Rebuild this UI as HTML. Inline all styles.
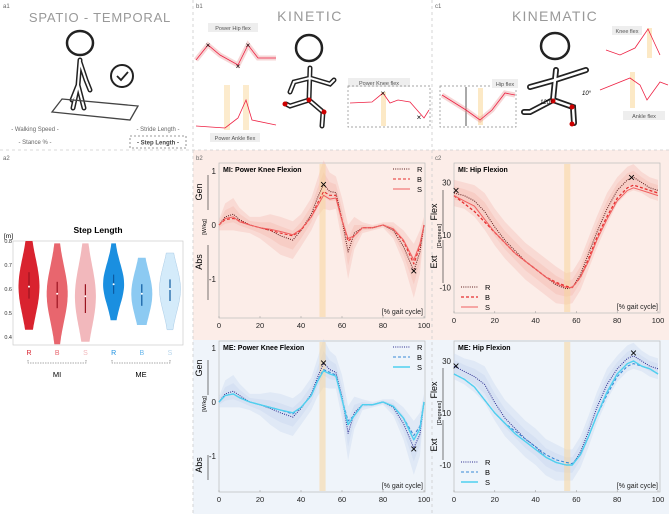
<!DOCTYPE html>
<html><head><meta charset="utf-8">
<style>
html,body{margin:0;padding:0;background:#fff;}
svg{display:block;font-family:"Liberation Sans",sans-serif;}
</style></head>
<body>
<svg id="fig" width="669" height="514" viewBox="0 0 669 514" xmlns="http://www.w3.org/2000/svg">
<rect x="193" y="150" width="239" height="190" fill="#fcede8"/>
<rect x="432" y="150" width="237" height="190" fill="#fcede8"/>
<rect x="193" y="340" width="239" height="174" fill="#eff4fa"/>
<rect x="432" y="340" width="237" height="174" fill="#eff4fa"/>
<g stroke="#ccc" stroke-dasharray="3,3" stroke-width="0.8">
<line x1="193" y1="0" x2="193" y2="514"/><line x1="432" y1="0" x2="432" y2="514"/>
<line x1="0" y1="150" x2="669" y2="150"/>
</g>
<g font-size="6" fill="#666">
<text x="3" y="8">a1</text><text x="196" y="8">b1</text><text x="435" y="8">c1</text>
<text x="3" y="160">a2</text><text x="196" y="160">b2</text><text x="435" y="160">c2</text>
</g>

<g>
<text x="100" y="22" font-size="13" fill="#999" text-anchor="middle" letter-spacing="0.8">SPATIO - TEMPORAL</text>
<ellipse cx="80" cy="43" rx="13" ry="12" fill="none" stroke="#222" stroke-width="2.5"/>
<path d="M80 60 L78 85 L72 100 M80 62 L86 80 L90 90 M78 85 L84 108 M78 85 L73 108" fill="none" stroke="#222" stroke-width="5" stroke-linecap="round"/>
<path d="M80 60 L78 85 L72 100 M80 62 L86 80 L90 90 M78 85 L84 108 M78 85 L73 108" fill="none" stroke="#fff" stroke-width="2" stroke-linecap="round"/>
<circle cx="122" cy="76" r="11" fill="none" stroke="#222" stroke-width="2"/>
<path d="M117 76 L121 80 L128 72" fill="none" stroke="#222" stroke-width="1.8"/>
<path d="M62 99 L138 106 L130 120 L52 112 Z" fill="none" stroke="#444" stroke-width="1.3"/>
<text x="35" y="131" font-size="6" fill="#666" text-anchor="middle">- Walking Speed -</text>
<text x="158" y="131" font-size="6" fill="#666" text-anchor="middle">- Stride Length -</text>
<text x="35" y="144" font-size="6" fill="#666" text-anchor="middle">- Stance % -</text>
<rect x="130" y="136" width="56" height="12" fill="none" stroke="#777" stroke-dasharray="2,2" stroke-width="0.8"/>
<text x="158" y="144.5" font-size="6" fill="#444" font-weight="bold" text-anchor="middle">- Step Length -</text>
</g>

<g>
<text x="310" y="21" font-size="14" fill="#999" text-anchor="middle" letter-spacing="1.5">KINETIC</text>
<rect x="208" y="23" width="50" height="9" fill="#eee"/><text x="233" y="30" font-size="5.5" fill="#555" text-anchor="middle">Power Hip flex</text>
<path d="M196 60 L208 45 L220 55 L238 65 L248 45 L258 58 L276 58" fill="none" stroke="#e58a8a" stroke-width="5" opacity="0.35"/>
<path d="M196 60 L208 45 L220 55 L238 65 L248 45 L258 58 L276 58" fill="none" stroke="#e24" stroke-width="0.8"/>
<text x="208" y="48" font-size="8" text-anchor="middle">×</text><text x="238" y="69" font-size="8" text-anchor="middle">×</text><text x="248" y="48" font-size="8" text-anchor="middle">×</text>
<rect x="224" y="85" width="6" height="45" fill="#fbe3b8" opacity="0.7"/><rect x="243" y="85" width="6" height="45" fill="#fbe3b8" opacity="0.7"/>
<path d="M196 126 L225 128 L238 118 L246 100 L252 120 L276 125" fill="none" stroke="#e24" stroke-width="0.8"/>
<rect x="210" y="133" width="50" height="9" fill="#eee"/><text x="235" y="140" font-size="5.5" fill="#555" text-anchor="middle">Power Ankle flex</text>
<ellipse cx="309" cy="48" rx="13" ry="13" fill="none" stroke="#222" stroke-width="2.5"/>
<path d="M310 68 L309 100 L290 106 L286 104 M309 100 L323 112 L322 126 M310 78 L294 82 L290 92 M310 78 L330 84 L334 80" fill="none" stroke="#222" stroke-width="5" stroke-linecap="round"/>
<path d="M310 68 L309 100 L290 106 L286 104 M309 100 L323 112 L322 126 M310 78 L294 82 L290 92 M310 78 L330 84 L334 80" fill="none" stroke="#fff" stroke-width="2" stroke-linecap="round"/>
<circle cx="309" cy="100" r="2.5" fill="#c00"/><circle cx="324" cy="112" r="2.5" fill="#c00"/><circle cx="285" cy="104" r="2.5" fill="#c00"/>
<rect x="348" y="78" width="62" height="9" fill="#eee"/><text x="379" y="85" font-size="5.5" fill="#555" text-anchor="middle">Power Knee flex</text>
<rect x="348" y="86" width="82" height="41" fill="none" stroke="#888" stroke-dasharray="2,2" stroke-width="0.7"/>
<rect x="381" y="92" width="5" height="34" fill="#fbe3b8" opacity="0.8"/>
<path d="M350 103 L372 102 L383 93 L390 103 L398 100 L410 102 L424 118 L429 110" fill="none" stroke="#e24" stroke-width="0.8"/>
<text x="383" y="96" font-size="8" text-anchor="middle">×</text><text x="419" y="120" font-size="8" text-anchor="middle">×</text>
</g>

<g>
<text x="555" y="21" font-size="14" fill="#999" text-anchor="middle" letter-spacing="1.2">KINEMATIC</text>
<rect x="440" y="86" width="76" height="41" fill="none" stroke="#888" stroke-dasharray="2,2" stroke-width="0.7"/>
<line x1="466" y1="87" x2="466" y2="126" stroke="#555"/>
<rect x="478" y="88" width="5" height="37" fill="#fbe3b8" opacity="0.8"/>
<path d="M442 95 L466 110 L480 120 L492 110 L505 93 L515 95" fill="none" stroke="#e58a8a" stroke-width="5" opacity="0.35"/>
<path d="M442 95 L466 110 L480 120 L492 110 L505 93 L515 95" fill="none" stroke="#e24" stroke-width="0.8"/>
<rect x="492" y="79" width="26" height="9" fill="#eee"/><text x="505" y="86" font-size="5.5" fill="#555" text-anchor="middle">Hip flex</text>
<ellipse cx="555" cy="46" rx="14" ry="13" fill="none" stroke="#222" stroke-width="2.5"/>
<path d="M556 70 L553 100 L573 107 L574 123 M553 100 L530 112 L524 112 M555 80 L530 87 M555 80 L586 70" fill="none" stroke="#222" stroke-width="6" stroke-linecap="round"/>
<path d="M556 70 L553 100 L573 107 L574 123 M553 100 L530 112 L524 112 M555 80 L530 87 M555 80 L586 70" fill="none" stroke="#fff" stroke-width="2.5" stroke-linecap="round"/>
<circle cx="553" cy="101" r="2.5" fill="#c00"/><circle cx="572" cy="107" r="2.5" fill="#c00"/><circle cx="572" cy="124" r="2.5" fill="#c00"/>
<text x="540" y="104" font-size="6" font-style="italic">120°</text><text x="582" y="95" font-size="6" font-style="italic">10°</text>
<rect x="612" y="26" width="30" height="9" fill="#eee"/><text x="627" y="33" font-size="5.5" fill="#555" text-anchor="middle">Knee flex</text>
<rect x="647" y="28" width="5" height="30" fill="#fbe3b8" opacity="0.8"/>
<path d="M606 50 L620 55 L635 48 L648 29 L660 55" fill="none" stroke="#e24" stroke-width="0.8"/>
<rect x="630" y="72" width="5" height="36" fill="#fbe3b8" opacity="0.8"/>
<path d="M600 90 L630 78 L640 85 L647 100 L660 82 L668 85" fill="none" stroke="#e24" stroke-width="0.8"/>
<rect x="623" y="111" width="42" height="9" fill="#eee"/><text x="644" y="118" font-size="5.5" fill="#555" text-anchor="middle">Ankle flex</text>
</g>

<g id="violin"></g>
<g id="charts"></g>
</svg>
<script>
const violinGroups = ['R','B','S','R','B','S'];
const violinMin = [0.43,0.37,0.38,0.47,0.45,0.43];
const violinMax = [0.80,0.79,0.79,0.79,0.73,0.75];
const violinMedian = [0.61,0.58,0.57,0.62,0.58,0.60];
const violinQ1 = [0.56,0.52,0.50,0.58,0.53,0.55];
const violinQ3 = [0.67,0.63,0.62,0.66,0.62,0.64];
const violinTicks = [0.4,0.5,0.6,0.7,0.8];
const violinColors = ['#d9232f','#e8666e','#f2b8bc','#1a8fe0','#8ccaf2','#d4ebfa'];
const violinLabelColors = ['#d9232f','#e8666e','#f2b8bc','#1a8fe0','#6ab8ec','#b8d6ec'];

const kneeX =      [0,3,7,10,15,20,25,30,36,40,45,48,51,54,57,60,63,66,70,75,80,85,90,95,98,100];
const kneeMI_R =   [0,0.15,0.2,0.1,0,-0.05,-0.1,-0.2,-0.28,-0.1,0.2,0.5,0.75,0.62,0.6,0.1,-0.5,-0.15,-0.05,-0.05,0,-0.1,-0.4,-0.85,-0.5,0];
const kneeMI_B =   [0,0.1,0.12,0.08,0,-0.05,-0.1,-0.15,-0.2,-0.1,0.15,0.4,0.62,0.55,0.55,0.1,-0.3,-0.2,-0.05,-0.05,0,-0.08,-0.3,-0.72,-0.4,0];
const kneeMI_S =   [0,0.12,0.15,0.06,0,-0.05,-0.08,-0.12,-0.18,-0.08,0.15,0.35,0.55,0.48,0.5,0.08,-0.25,-0.2,-0.05,-0.05,0,-0.07,-0.28,-0.65,-0.35,0];
const kneeME_R =   [0,0.15,0.2,0.12,0,-0.05,-0.12,-0.2,-0.28,-0.12,0.15,0.45,0.72,0.6,0.55,0.1,-0.58,-0.2,-0.05,-0.05,0,-0.1,-0.4,-0.85,-0.6,0];
const kneeME_B =   [0,0.12,0.15,0.08,0,-0.05,-0.1,-0.15,-0.22,-0.1,0.12,0.4,0.6,0.55,0.5,0.05,-0.35,-0.25,-0.05,-0.05,0,-0.08,-0.3,-0.62,-0.45,0];
const kneeME_S =   [0,0.12,0.15,0.08,0,-0.05,-0.1,-0.15,-0.2,-0.1,0.12,0.38,0.58,0.52,0.48,0.05,-0.42,-0.25,-0.05,-0.05,0,-0.08,-0.3,-0.7,-0.5,0];
const kneeSD =     [0.1,0.25,0.3,0.22,0.15,0.2,0.3,0.35,0.35,0.3,0.3,0.35,0.45,0.35,0.3,0.4,0.5,0.3,0.1,0.05,0.05,0.15,0.3,0.5,0.4,0.15];
const kneeTicksY = [-1,0,1];

const hipX =      [0,5,10,15,20,25,30,35,40,45,50,55,58,62,66,70,75,80,85,88,92,96,100];
const hipMI_R =   [26,25,23,19,13,8,4,0,-3,-6,-9,-10.5,-10,-5,3,11,20,27,31,32,30,28,27];
const hipMI_B =   [25,22,19,15,11,7,3,0,-3,-6,-8,-9.5,-10,-6,1,9,17,24,28,29,28,27,26];
const hipMI_S =   [25,23,21,16,11,7,3,0,-3,-6,-8.5,-10,-10,-6,0,8,16,23,27,28,27,26,25];
const hipME_R =   [28,26,24,21,14,8,4,0,-3,-7,-9,-10,-10,-5,3,12,21,27,31,32,30,28,27];
const hipME_B =   [25,23,20,15,10,6,3,0,-3,-6,-8,-9,-9.5,-6,1,9,17,24,28,29,28,27,25];
const hipME_S =   [25,23,20,15,10,6,2,-1,-4,-7,-9,-10,-10,-6,1,9,18,25,29,30,28,27,25];
const hipSD =     [5,5,6,7,7,7,7,7,7,7,7,6,6,6,6,6,6,5,5,5,4,4,4];
const hipTicksY = [-10,10,30];
const xTicks = [0,20,40,60,80,100];

const NS='http://www.w3.org/2000/svg';
function mk(tag,attrs,parent){const e=document.createElementNS(NS,tag);for(const k in attrs)e.setAttribute(k,attrs[k]);parent.appendChild(e);return e;}

(function(){
  const g=document.getElementById('violin');
  const L=13,R=183,T=241,B=345;
  const y=v=>241+(0.8-v)*240;
  const cx=i=>29+i*28.2;
  const t=mk('text',{x:98,y:233,'font-size':8.5,'font-weight':'bold','text-anchor':'middle'},g);t.textContent='Step Length';
  
  
  const u=mk('text',{x:4,y:238,'font-size':6.5},g);u.textContent='[m]';
  
  
  mk('rect',{x:L,y:T,width:R-L,height:B-T,fill:'none',stroke:'#ccc','stroke-width':0.7},g);
  violinTicks.forEach(v=>{
    const tx=mk('text',{x:L-1,y:y(v)+2,'font-size':5.5,'text-anchor':'end',fill:'#333'},g);tx.textContent=v.toFixed(1);
    
    
  });
  violinGroups.forEach((gName,i)=>{
    const c=cx(i),mn=violinMin[i],mx=violinMax[i],md=violinMedian[i];
    const sp=(violinQ3[i]-violinQ1[i])*1.5;
    let left=[],right=[];
    for(let k=0;k<=40;k++){
      const v=mn+(mx-mn)*k/40;
      const w=1+9.5*Math.exp(-Math.pow((v-md)/sp,2));
      left.push((c-w).toFixed(1)+','+y(v).toFixed(1));
      right.unshift((c+w).toFixed(1)+','+y(v).toFixed(1));
    }
    const p=mk('polygon',{points:left.concat(right).join(' '),fill:violinColors[i],stroke:i===5?'#a9cbe6':'none','stroke-width':0.5},g);
    
    
    mk('line',{x1:c,y1:y(violinQ1[i]),x2:c,y2:y(violinQ3[i]),stroke:i<3?'#9a1420':'#0d5aa0','stroke-width':1.2},g);
    mk('circle',{cx:c,cy:y(md),r:1,fill:'#fff'},g);
    const lb=mk('text',{x:c,y:355,'font-size':7,'text-anchor':'middle',fill:violinLabelColors[i]},g);lb.textContent=gName;
    
    
  });
  mk('path',{d:'M28 360 v3 h58 v-3 M112 360 v3 h58 v-3',fill:'none',stroke:'#555','stroke-width':0.6,'stroke-dasharray':'1.5,1'},g);
  const a=mk('text',{x:57,y:377,'font-size':7.5,'text-anchor':'middle'},g);a.textContent='MI';
  
  
  const b=mk('text',{x:141,y:377,'font-size':7.5,'text-anchor':'middle'},g);b.textContent='ME';
  
  
})();

function drawChart(cfg){
  const g=mk('g',{},document.getElementById('charts'));
  
  
  const X=v=>cfg.x0+v*cfg.xs, Y=v=>cfg.y0-(v-cfg.yref)*cfg.ys;
  mk('rect',{x:cfg.L,y:cfg.T,width:cfg.R-cfg.L,height:cfg.B-cfg.T,fill:'none',stroke:'#bbb','stroke-width':0.7},g);
  [[1.0,0.35],[0.5,0.4]].forEach(bd=>{
    const up=cfg.xs_.map((x,i)=>X(x).toFixed(1)+','+Y(cfg.series[0][i]+cfg.sd[i]*bd[0]).toFixed(1));
    const lo=cfg.xs_.map((x,i)=>X(x).toFixed(1)+','+Y(cfg.series[0][i]-cfg.sd[i]*bd[0]).toFixed(1)).reverse();
    const band=mk('polygon',{points:up.concat(lo).join(' '),fill:cfg.band,opacity:bd[1]},g);
    
    
  });
  mk('rect',{x:X(cfg.bar[0]),y:cfg.T+1,width:X(cfg.bar[1])-X(cfg.bar[0]),height:cfg.B-cfg.T-2,fill:'#f7d59c',opacity:0.55},g);
  const names=['r','b','s'];
  cfg.series.forEach((s,k)=>{
    const pts=cfg.xs_.map((x,i)=>X(x).toFixed(1)+','+Y(s[i]).toFixed(1)).join(' ');
    const l=mk('polyline',{points:pts,fill:'none',stroke:cfg.colors[k],'stroke-width':cfg.widths[k],'stroke-dasharray':cfg.dash[k],'stroke-linejoin':'round'},g);
    
    
  });
  cfg.marks.forEach(m=>{
    const t=mk('text',{x:X(m[0]),y:Y(m[1])+4,'font-size':12,'text-anchor':'middle'},g);t.textContent='×';
    
    
  });
  xTicks.forEach(v=>{
    mk('line',{x1:X(v),y1:cfg.B,x2:X(v),y2:cfg.B-2,stroke:'#999','stroke-width':0.5},g);
    const t=mk('text',{x:X(v),y:cfg.B+10,'font-size':7.5,'text-anchor':'middle',fill:'#222'},g);t.textContent=v;
    
    
  });
  cfg.yt.forEach(v=>{
    const t=mk('text',{x:cfg.L-3,y:Y(v)+3,'font-size':8,'text-anchor':'end',fill:'#222'},g);t.textContent=v;
    
    
  });
  const ti=mk('text',{x:cfg.L+4,y:cfg.T+9,'font-size':7,'font-weight':'bold'},g);ti.textContent=cfg.title;
  
  
  const xl=mk('text',{x:cfg.R-2,y:cfg.B-4,'font-size':7,'text-anchor':'end',fill:'#222'},g);xl.textContent='[% gait cycle]';
  
  
  const ax=cfg.L-17;
  cfg.ylab.forEach(a=>{
    const t=mk('text',{x:0,y:0,'font-size':a[2],'text-anchor':'middle',transform:'translate('+(ax+a[3])+','+a[1]+') rotate(-90)'},g);t.textContent=a[0];
    
    
  });
  cfg.arrows.forEach(a=>mk('line',{x1:ax+6,y1:a[0],x2:ax+6,y2:a[1],stroke:'#222','stroke-width':0.6},g));
  cfg.series.forEach((s,k)=>{
    const ly=cfg.leg[1]+k*10;
    mk('line',{x1:cfg.leg[0],y1:ly,x2:cfg.leg[0]+17,y2:ly,stroke:cfg.colors[k],'stroke-width':cfg.widths[k],'stroke-dasharray':cfg.dash[k]},g);
    const t=mk('text',{x:cfg.leg[0]+24,y:ly+3,'font-size':7.5},g);t.textContent=['R','B','S'][k];
    
    
  });
}
const redC=['#5a1a1a','#e62e2e','#f06060'], blueC=['#2b2b8f','#3a8ad6','#4fd0ef'];
const dashK=['1,1.2','3,2',''];
drawChart({name:'mi-power-knee-chart',title:'MI: Power Knee Flexion',L:219,R:425,T:163,B:318,x0:219,xs:2.05,y0:225,yref:0,ys:54,
  xs_:kneeX,series:[kneeMI_R,kneeMI_B,kneeMI_S],sd:kneeSD,band:'#f4b8b0',bar:[49,52],colors:redC,widths:[1,1.1,1],dash:dashK,
  marks:[[51,0.75],[95,-0.85]],yt:kneeTicksY,leg:[393,169],
  ylab:[['Gen',192,9,0],['[W/kg]',227,5.5,4],['Abs',262,9,0]],arrows:[[175,210],[245,300]]});
drawChart({name:'mi-hip-flexion-chart',title:'MI: Hip Flexion',L:454,R:660,T:163,B:313,x0:454,xs:2.04,y0:235,yref:10,ys:2.625,
  xs_:hipX,series:[hipMI_R,hipMI_B,hipMI_S],sd:hipSD,band:'#f4b8b0',bar:[54,57],colors:redC,widths:[1,1.3,1],dash:dashK,
  marks:[[1,27],[87,32]],yt:hipTicksY,leg:[461,287],
  ylab:[['Flex',212,9,0],['[Degrees]',236,5.5,4],['Ext',262,9,0]],arrows:[[190,232],[240,283]]});
drawChart({name:'me-power-knee-chart',title:'ME: Power Knee Flexion',L:219,R:425,T:341,B:492,x0:219,xs:2.05,y0:402,yref:0,ys:54,
  xs_:kneeX,series:[kneeME_R,kneeME_B,kneeME_S],sd:kneeSD,band:'#c7d5ef',bar:[49,52],colors:blueC,widths:[1,1.1,1.4],dash:dashK,
  marks:[[51,0.72],[95,-0.87]],yt:kneeTicksY,leg:[393,347],
  ylab:[['Gen',368,9,0],['[W/kg]',404,5.5,4],['Abs',465,9,0]],arrows:[[360,395],[455,480]]});
drawChart({name:'me-hip-flexion-chart',title:'ME: Hip Flexion',L:454,R:660,T:341,B:492,x0:454,xs:2.04,y0:413,yref:10,ys:2.6,
  xs_:hipX,series:[hipME_R,hipME_B,hipME_S],sd:hipSD,band:'#c7d5ef',bar:[54,57],colors:blueC,widths:[1,1.1,1.4],dash:dashK,
  marks:[[1,28],[88,33]],yt:hipTicksY,leg:[461,462],
  ylab:[['Flex',390,9,0],['[Degrees]',413,5.5,4],['Ext',445,9,0]],arrows:[[368,412],[420,460]]});
</script>
</body></html>
